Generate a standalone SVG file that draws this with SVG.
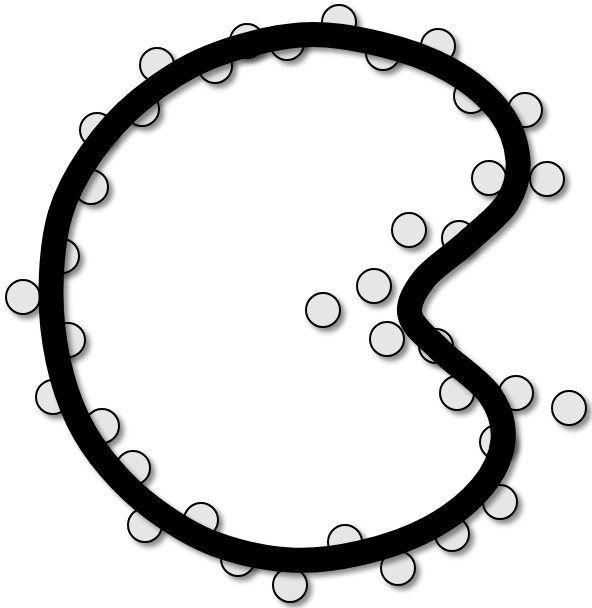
<svg xmlns="http://www.w3.org/2000/svg" width="592" height="608" viewBox="0 0 592 608">
<defs>
<filter id="sh" x="-20%" y="-20%" width="150%" height="150%">
<feDropShadow dx="4" dy="4" stdDeviation="2.5" flood-color="#000" flood-opacity="0.45"/>
</filter>
<style>
.c{fill:#e6e6e6;stroke:#000;stroke-width:2;filter:url(#sh)}
.curve{fill:none;stroke:#000;stroke-width:25;filter:url(#sh)}
</style>
</defs>
<rect width="592" height="608" fill="#fff"/>
<g id="dots">
<circle class="c" cx="339" cy="22" r="17"/>
<circle class="c" cx="383" cy="53" r="17"/>
<circle class="c" cx="438" cy="46" r="17"/>
<circle class="c" cx="471" cy="96" r="17"/>
<circle class="c" cx="525" cy="110" r="17"/>
<circle class="c" cx="489" cy="178" r="17"/>
<circle class="c" cx="547" cy="179" r="17"/>
<circle class="c" cx="409" cy="230" r="17"/>
<circle class="c" cx="459" cy="238" r="17"/>
<circle class="c" cx="374" cy="286" r="17"/>
<circle class="c" cx="323" cy="310" r="17"/>
<circle class="c" cx="387" cy="339" r="17"/>
<circle class="c" cx="436" cy="346" r="17"/>
<circle class="c" cx="457" cy="393" r="17"/>
<circle class="c" cx="516" cy="393" r="17"/>
<circle class="c" cx="569" cy="408" r="17"/>
<circle class="c" cx="497" cy="442" r="17"/>
<circle class="c" cx="500" cy="502" r="17"/>
<circle class="c" cx="452" cy="534" r="17"/>
<circle class="c" cx="345" cy="542" r="17"/>
<circle class="c" cx="398" cy="568" r="17"/>
<circle class="c" cx="290" cy="585" r="17"/>
<circle class="c" cx="238" cy="559" r="17"/>
<circle class="c" cx="201" cy="520" r="17"/>
<circle class="c" cx="145" cy="525" r="17"/>
<circle class="c" cx="133" cy="468" r="17"/>
<circle class="c" cx="102" cy="426" r="17"/>
<circle class="c" cx="53" cy="397" r="17"/>
<circle class="c" cx="68" cy="340" r="17"/>
<circle class="c" cx="23" cy="297" r="17"/>
<circle class="c" cx="62" cy="256" r="17"/>
<circle class="c" cx="91" cy="187" r="17"/>
<circle class="c" cx="97" cy="130" r="17"/>
<circle class="c" cx="142" cy="109" r="17"/>
<circle class="c" cx="157" cy="65" r="17"/>
<circle class="c" cx="215" cy="66" r="17"/>
<circle class="c" cx="247" cy="41" r="17"/>
<circle class="c" cx="287" cy="43" r="17"/>
</g>
<g id="loop">
<path class="curve" d="M300,35 C328.3,32.8 355,38.2 380,44 C405,49.8 430,58.7 450,70 C470,81.3 488.7,97 500,112 C511.3,127 516.8,144.8 518,160 C519.2,175.2 515.7,189.2 507,203 C498.3,216.8 479.8,230.3 466,243 C452.2,255.7 433.3,267 424,279 C414.7,291 407.3,303.2 410,315 C412.7,326.8 426.7,336.7 440,350 C453.3,363.3 479.5,380 490,395 C500.5,410 504.3,424.7 503,440 C501.7,455.3 494.2,472.3 482,487 C469.8,501.7 450.3,517 430,528 C409.7,539 383.3,547.7 360,553 C336.7,558.3 314.2,561.5 290,560 C265.8,558.5 237.5,552.3 215,544 C192.5,535.7 172.5,522.7 155,510 C137.5,497.3 122.8,483 110,468 C97.2,453 86.7,438 78,420 C69.3,402 62.5,381.7 58,360 C53.5,338.3 50.7,314.2 51,290 C51.3,265.8 53.5,237.5 60,215 C66.5,192.5 76.7,174.2 90,155 C103.3,135.8 120,116.3 140,100 C160,83.7 183.3,67.8 210,57 C236.7,46.2 271.7,37.2 300,35 Z"/>
</g>
</svg>
